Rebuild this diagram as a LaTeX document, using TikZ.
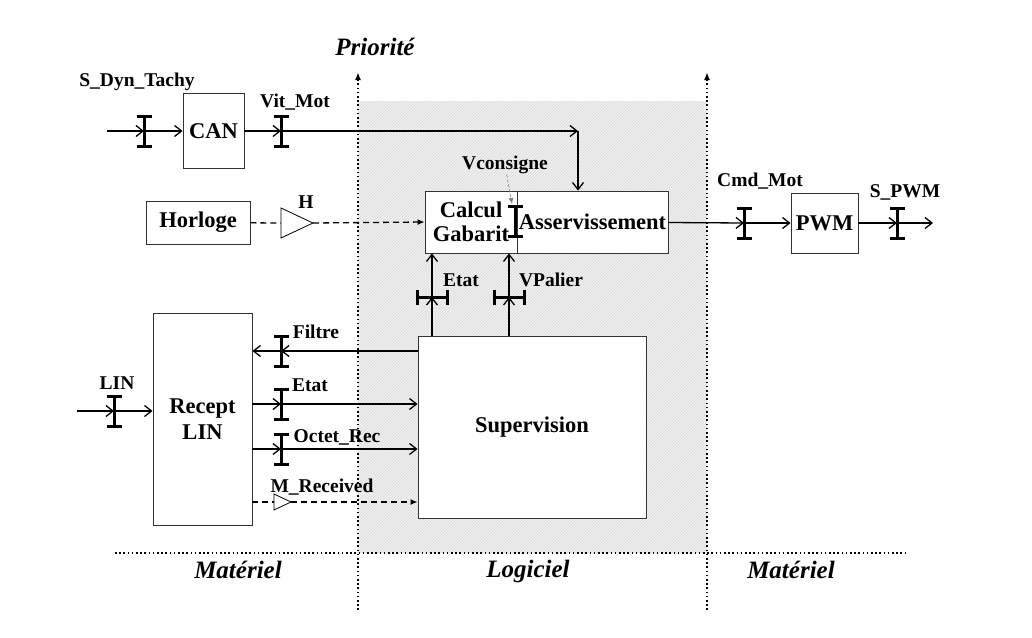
\documentclass[tikz,border=0pt]{standalone}
\usepackage{fontspec}
\setmainfont{Liberation Serif}
\usetikzlibrary{arrows.meta,patterns}

\begin{document}
\begin{tikzpicture}[x=1pt,y=-1pt,line width=1.3pt,
  boite/.style={draw=black!80,line width=.9pt,fill=white,inner sep=0pt,
    font=\fontsize{22.5}{24}\selectfont\bfseries,align=center},
  etiq/.style={font=\fontsize{19.5}{21}\selectfont\bfseries,inner sep=0pt},
  zone/.style={font=\fontsize{25}{28}\selectfont\bfseries\itshape,inner sep=0pt},
  fl/.style={-{Straight Barb[length=7pt,width=11pt]}},
  fltir/.style={dashed,dash pattern=on 6pt off 4pt,-{Latex[length=7pt,width=6pt]}},
  pointille/.style={line width=1.8pt,dash pattern=on 1.6pt off 2.6pt},
  vbeam/.pic={\draw[line width=3pt] (0,-15) -- (0,15) (-7.5,-15) -- (7.5,-15) (-7.5,15) -- (7.5,15);},
  hbeam/.pic={\draw[line width=3pt] (-15,0) -- (15,0) (-15,-7.5) -- (-15,7.5) (15,-7.5) -- (15,7.5);}]

\useasboundingbox (0,0) rectangle (1032,637);

% zone logicielle
\fill[gray!12] (358,101) rectangle (707,553);
\fill[pattern=north east lines,pattern color=gray!30] (358,101) rectangle (707,553);

\coordinate (sep1_b) at (358,610);
\coordinate (sep1_h) at (358,72);
\coordinate (sep2_b) at (707,610);
\coordinate (sep2_h) at (707,72);
\coordinate (hor_g) at (115,553);
\coordinate (hor_d) at (908,553);

\draw[pointille,-{Latex[length=8pt,width=6pt]}] (sep1_b) -- (sep1_h);
\draw[pointille,-{Latex[length=8pt,width=6pt]}] (sep2_b) -- (sep2_h);
\draw[pointille] (hor_g) -- (hor_d);

\node[zone] (prio) at (375,47) {Priorité};
\node[zone] (mat_g) at (238,570) {Matériel};
\node[zone] (logi) at (528,571) {Logiciel};
\node[zone] (mat_d) at (791,570) {Matériel};

% blocs
\node[boite,minimum width=61,minimum height=75] (can) at (213.5,131) {CAN};
\node[boite,minimum width=104,minimum height=43] (horloge) at (198,222.5) {Horloge};
\node[boite,minimum width=92,minimum height=62] (calc) at (471,222) {Calcul\\Gabarit};
\node[boite,minimum width=151,minimum height=62] (asserv) at (592.5,222) {Asservissement};
\node[boite,minimum width=67,minimum height=60] (pwm) at (824.5,223) {PWM};
\node[boite,minimum width=99,minimum height=212,font=\fontsize{22.5}{26}\selectfont\bfseries] (recept) at (202.5,419) {Recept\\LIN};
\node[boite,minimum width=228,minimum height=182] (superv) at (532,427) {Supervision};

% S_Dyn_Tachy et Vit_Mot
\coordinate (tachy) at (107,131);
\coordinate (b_tachy) at (144,131);
\coordinate (b_vit) at (281,131);
\coordinate (coin) at (578,131);
\pic at (b_tachy) {vbeam};
\pic at (b_vit) {vbeam};
\draw[fl] (tachy) -- (b_tachy);
\draw[fl] (b_tachy) -- (can);
\draw[fl] (can) -- (b_vit);
\draw[fl] (b_vit) -- (coin);
\draw[fl] (coin) -- (coin |- asserv.north);
\node[etiq] (tachy_d) at (137,82) {S\_Dyn\_Tachy};
\node[etiq] (vit_d) at (295,102) {Vit\_Mot};

% Horloge
\coordinate (h_buf) at (281,223);
\coordinate (h_tip) at (313,223);
\draw[dashed,dash pattern=on 6pt off 4pt] (horloge) -- (h_buf);
\draw[line width=.8pt,fill=white] (h_buf) -- ++(0,-15) -- (h_tip) -- ++(-32,15) -- cycle;
\draw[fltir] (h_tip) -- (calc.west);
\node[etiq] (h_d) at (306,202) {H};

% Vconsigne
\coordinate (b_cons) at (515,221);
\pic at (b_cons) {vbeam};
\node[etiq] (cons_d) at (505,165) {Vconsigne};
\draw[gray,line width=.7pt,dashed,dash pattern=on 3pt off 2pt,-{Latex[length=6pt,width=5pt]}] ([shift={(-6,12)}]cons_d) -- ([shift={(-3,-17)}]b_cons);

% Cmd_Mot et S_PWM
\coordinate (b_cmd) at (744,223);
\coordinate (b_pwm) at (897,223);
\coordinate (s_pwm) at (933,223);
\pic at (b_cmd) {vbeam};
\pic at (b_pwm) {vbeam};
\draw[fl] (asserv) -- (b_cmd);
\draw[fl] (b_cmd) -- (pwm);
\draw[fl] (pwm) -- (b_pwm);
\draw[fl] (b_pwm) -- (s_pwm);
\node[etiq] (cmd_d) at (760,181) {Cmd\_Mot};
\node[etiq] (spwm_d) at (905,192) {S\_PWM};

% Etat et VPalier
\coordinate (b_etat) at (432,297);
\coordinate (b_pal) at (509,297);
\pic at (b_etat) {hbeam};
\pic at (b_pal) {hbeam};
\draw[fl] (b_etat |- superv.north) -- (b_etat);
\draw[fl] (b_etat) -- (b_etat |- calc.south);
\draw[fl] (b_pal |- superv.north) -- (b_pal);
\draw[fl] (b_pal) -- (b_pal |- calc.south);
\node[etiq] (etat_d) at (461,280) {Etat};
\node[etiq] (pal_d) at (551,280) {VPalier};

% LIN
\coordinate (lin) at (77,411);
\coordinate (b_lin) at (114,411);
\pic at (b_lin) {vbeam};
\draw[fl] (lin) -- (b_lin);
\draw[fl] (b_lin) -- (recept.west |- b_lin);
\node[etiq] (lin_d) at (117,383) {LIN};

% Recept LIN <-> Supervision
\coordinate (b_filt) at (281,351);
\coordinate (b_etat2) at (281,404);
\coordinate (b_oct) at (281,449);
\pic at (b_filt) {vbeam};
\pic at (b_etat2) {vbeam};
\pic at (b_oct) {vbeam};
\draw[fl] (superv.west |- b_filt) -- (b_filt);
\draw[fl] (b_filt) -- (recept.east |- b_filt);
\draw[fl] (recept.east |- b_etat2) -- (b_etat2);
\draw[fl] (b_etat2) -- (superv.west |- b_etat2);
\draw[fl] (recept.east |- b_oct) -- (b_oct);
\draw[fl] (b_oct) -- (superv.west |- b_oct);
\node[etiq] (filt_d) at (316,332) {Filtre};
\node[etiq] (etat2_d) at (310,385) {Etat};
\node[etiq] (oct_d) at (337,437) {Octet\_Rec};

% M_Received
\coordinate (m_buf) at (274,502);
\coordinate (m_tip) at (291,502);
\draw[dashed,dash pattern=on 6pt off 4pt] (recept.east |- m_buf) -- (m_buf);
\draw[line width=.8pt,fill=white] (m_buf) -- ++(0,-8) -- (m_tip) -- ++(-17,8) -- cycle;
\draw[fltir] (m_tip) -- (superv.west |- m_tip);
\node[etiq] (m_d) at (322,487) {M\_Received};

\end{tikzpicture}
\end{document}
